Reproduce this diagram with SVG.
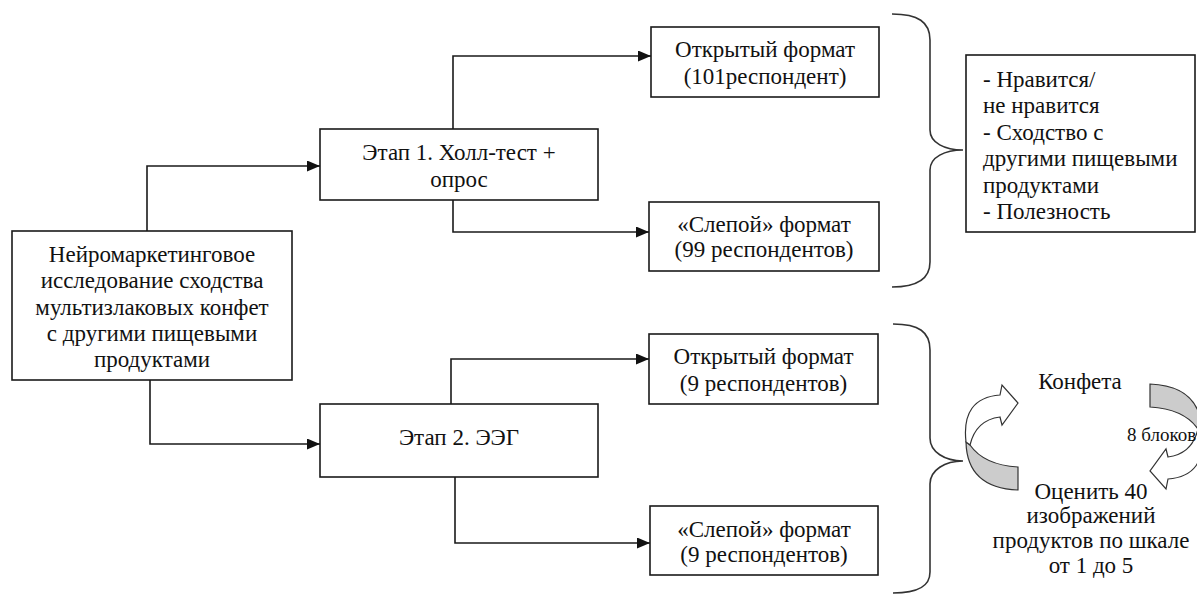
<svg xmlns="http://www.w3.org/2000/svg" width="1197" height="594" viewBox="0 0 1197 594">
<style>
.box{fill:#fff;stroke:#1a1a1a;stroke-width:1.6}
.t{font-family:"Liberation Serif","Times New Roman",serif;font-size:23px;fill:#111}
.c{text-anchor:middle}
.ln{fill:none;stroke:#1a1a1a;stroke-width:1.6}
.br{fill:none;stroke:#333;stroke-width:1.6}
.wa{fill:#fff;stroke:#333;stroke-width:1.2;stroke-linejoin:miter}
.ga{fill:#cccccc;stroke:#333;stroke-width:1.2}
</style>
<defs>
<marker id="ah" markerWidth="13" markerHeight="11" refX="13" refY="5.5" orient="auto" markerUnits="userSpaceOnUse">
<path d="M0,0 L13,5.5 L0,11 Z" fill="#111"/>
</marker>
</defs>
<rect width="1197" height="594" fill="#fff"/>
<g id="connectors">
<path class="ln" d="M147,231 V166 H320" marker-end="url(#ah)"/>
<path class="ln" d="M150,380 V444 H320" marker-end="url(#ah)"/>
<path class="ln" d="M453,129 V56 H651" marker-end="url(#ah)"/>
<path class="ln" d="M453,200 V232 H649" marker-end="url(#ah)"/>
<path class="ln" d="M451,404 V359 H649" marker-end="url(#ah)"/>
<path class="ln" d="M455,477 V543 H650" marker-end="url(#ah)"/>
</g>
<g id="main">
<rect class="box" x="12" y="231" width="280" height="149"/>
<text class="t c" x="152" y="262">Нейромаркетинговое</text>
<text class="t c" x="152" y="288.3">исследование сходства</text>
<text class="t c" x="152" y="314.6">мультизлаковых конфет</text>
<text class="t c" x="152" y="340.9">с другими пищевыми</text>
<text class="t c" x="152" y="367.2">продуктами</text>
</g>
<g id="stage1">
<rect class="box" x="320" y="129" width="278" height="71"/>
<text class="t c" x="459" y="160">Этап 1. Холл-тест +</text>
<text class="t c" x="459" y="187">опрос</text>
</g>
<g id="stage2">
<rect class="box" x="320" y="404" width="278" height="73"/>
<text class="t c" x="459" y="445">Этап 2. ЭЭГ</text>
</g>
<g id="open1">
<rect class="box" x="651" y="27" width="228" height="70"/>
<text class="t c" x="765" y="57">Открытый формат</text>
<text class="t c" x="765" y="84">(101респондент)</text>
</g>
<g id="blind1">
<rect class="box" x="649" y="202" width="230" height="69"/>
<text class="t c" x="764" y="232">«Слепой» формат</text>
<text class="t c" x="764" y="257">(99 респондентов)</text>
</g>
<g id="open2">
<rect class="box" x="649" y="334" width="229" height="70"/>
<text class="t c" x="763.5" y="364">Открытый формат</text>
<text class="t c" x="763.5" y="391">(9 респондентов)</text>
</g>
<g id="blind2">
<rect class="box" x="650" y="506" width="228" height="69"/>
<text class="t c" x="764" y="537">«Слепой» формат</text>
<text class="t c" x="764" y="562">(9 респондентов)</text>
</g>
<g id="brace1">
<path class="br" d="M892,14 C918,14 930,22 930,40 L930,130 C930,143 945,150 963,150 C945,150 930,157 930,170 L930,262 C930,278 918,287 892,287"/>
</g>
<g id="brace2">
<path class="br" d="M893,324 C919,324 930,332 930,350 L930,438 C930,452 945,461 963,461 C945,461 930,470 930,484 L930,572 C930,586 919,593 893,593"/>
</g>
<g id="criteria">
<rect class="box" x="966" y="55" width="229" height="177"/>
<text class="t" x="983" y="87">- Нравится/</text>
<text class="t" x="983" y="113.4">не нравится</text>
<text class="t" x="983" y="139.8">- Сходство с</text>
<text class="t" x="983" y="166.2">другими пищевыми</text>
<text class="t" x="983" y="192.6">продуктами</text>
<text class="t" x="983" y="219">- Полезность</text>
</g>
<g id="cycle">
<g id="arrowL">
<path class="ga" d="M966,442 Q967,488 1018,490 L1018,467 Q984,465 970,445 Z"/>
<path class="wa" d="M966,442 Q961,398 1000,395 L1002,385 L1018,403 L1002,425 L1000,417 Q976,420 970,445 Z"/>
</g>
<g id="arrowR" transform="translate(-2,0) rotate(180 1085 437)">
<path class="ga" d="M966,442 Q967,488 1018,490 L1018,467 Q984,465 970,445 Z"/>
<path class="wa" d="M966,442 Q961,398 1000,395 L1002,385 L1018,403 L1002,425 L1000,417 Q976,420 970,445 Z"/>
</g>
<text class="t c" x="1080" y="389">Конфета</text>
<text class="t" x="1127" y="441" style="font-size:19px">8 блоков</text>
<text class="t c" x="1091" y="499">Оценить 40</text>
<text class="t c" x="1091" y="523">изображений</text>
<text class="t c" x="1091" y="548">продуктов по шкале</text>
<text class="t c" x="1091" y="573">от 1 до 5</text>
</g>
</svg>
